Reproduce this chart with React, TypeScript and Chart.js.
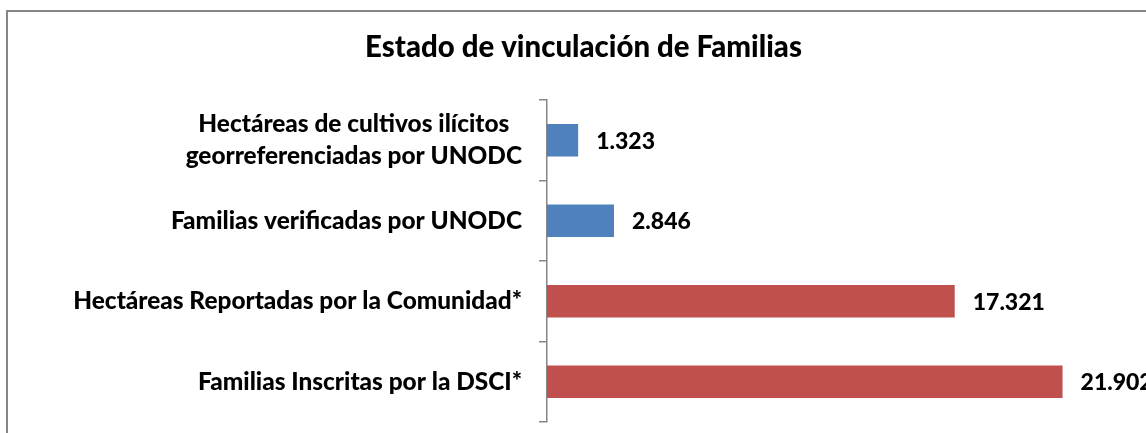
import React, { useEffect, useRef } from "react";
import { Chart, registerables } from "chart.js";

Chart.register(...registerables);

const titleText = "Estado de vinculación de Familias";
const categories: string[][] = [
  ["Hectáreas de cultivos ilícitos", "georreferenciadas por UNODC"],
  ["Familias verificadas por UNODC"],
  ["Hectáreas Reportadas por la Comunidad*"],
  ["Familias Inscritas por la DSCI*"],
];
const values: number[] = [1323, 2846, 17321, 21902];
const barColors: string[] = ["#4F81BD", "#4F81BD", "#C0504D", "#C0504D"];
const xMax = 26000;

const FONT = "Lato, 'Open Sans', sans-serif";
const W = 900;

const fmt = (v: number) => String(v).replace(/\B(?=(\d{3})+(?!\d))/g, ".");

const labelsPlugin = {
  id: "customLabels",
  afterDraw(chart: any) {
    const ctx = chart.ctx;
    const yScale = chart.scales.y;
    const area = chart.chartArea;
    ctx.save();
    ctx.fillStyle = "#000";
    ctx.textBaseline = "middle";
    ctx.font = `${W} 24.4px ${FONT}`;
    ctx.textAlign = "center";
    const lineH = 32;
    categories.forEach((lines, i) => {
      const cy = yScale.getPixelForValue(i);
      const maxW = Math.max(...lines.map((l) => ctx.measureText(l).width));
      const right = area.left - 25;
      const cx = right - maxW / 2;
      lines.forEach((l, j) => {
        ctx.fillText(l, cx, cy + (j - (lines.length - 1) / 2) * lineH);
      });
    });
    ctx.font = `${W} 23px ${FONT}`;
    ctx.textAlign = "left";
    const meta = chart.getDatasetMeta(0);
    meta.data.forEach((bar: any, i: number) => {
      ctx.fillText(fmt(values[i]), bar.x + 18, bar.y + 1);
    });
    ctx.restore();
  },
};

export default function App() {
  const ref = useRef<HTMLCanvasElement>(null);
  useEffect(() => {
    if (!ref.current) return;
    const chart = new Chart(ref.current, {
      type: "bar",
      data: {
        labels: categories,
        datasets: [
          {
            data: values,
            backgroundColor: barColors,
            borderWidth: 0,
            barPercentage: 0.405,
            categoryPercentage: 1,
          },
        ],
      },
      options: {
        indexAxis: "y",
        responsive: false,
        animation: false,
        layout: { padding: { left: 0, right: 0, top: 0, bottom: 20 } },
        plugins: {
          legend: { display: false },
          tooltip: { enabled: false },
          title: {
            display: true,
            text: titleText,
            color: "#000",
            font: { family: FONT, size: 29.4, weight: W as any, lineHeight: 1.2 },
            padding: { top: 18, bottom: 34.7 },
          },
        },
        scales: {
          x: { display: false, min: 0, max: xMax },
          y: {
            display: true,
            ticks: { display: false },
            grid: {
              display: true,
              drawOnChartArea: false,
              drawTicks: true,
              tickLength: 8,
              color: "#868686",
              lineWidth: 1.5,
            },
            border: { display: true, color: "#868686", width: 1.5 },
            afterFit: (scale: any) => {
              scale.width = 539;
            },
          },
        },
      },
      plugins: [labelsPlugin],
    });
    return () => chart.destroy();
  }, []);

  return (
    <div
      style={{
        position: "fixed",
        left: 0,
        top: 0,
        width: 1146,
        height: 433,
        overflow: "hidden",
        background: "#fff",
      }}
    >
      <div
        style={{
          position: "absolute",
          left: 6,
          top: 10,
          width: 1151,
          height: 440,
          border: "2px solid #868686",
        }}
      >
        <canvas
          ref={ref}
          width={1151}
          height={430}
          style={{ display: "block", width: 1151, height: 430 }}
        />
      </div>
    </div>
  );
}
